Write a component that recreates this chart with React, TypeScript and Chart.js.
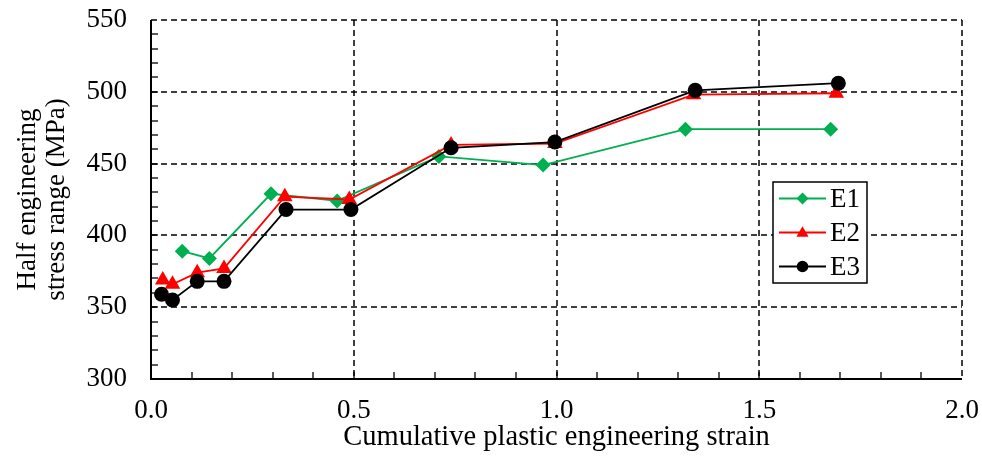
import { useEffect, useRef } from "react";
import { Chart, registerables } from "chart.js";

Chart.register(...registerables);

const seriesNames = ["E1", "E2", "E3"];
const seriesColors = ["#00B050", "#FF0000", "#000000"];

const e1Strain = [0.077, 0.144, 0.296, 0.459, 0.71, 0.967, 1.318, 1.676];
const e1Stress = [389, 384, 429, 424, 455, 449, 474, 474];

const e2Strain = [0.029, 0.053, 0.114, 0.18, 0.33, 0.489, 0.74, 0.996, 1.338, 1.69];
const e2Stress = [369, 366, 374, 377, 427, 425, 463, 464, 498, 499];

const e3Strain = [0.026, 0.053, 0.114, 0.18, 0.333, 0.493, 0.74, 0.996, 1.342, 1.695];
const e3Stress = [359, 355, 368, 368, 418, 418, 461, 465, 501, 506];

const xMajorTicks = [0, 0.5, 1.0, 1.5, 2.0];
const yMajorTicks = [300, 350, 400, 450, 500, 550];

const xTitle = "Cumulative plastic engineering strain";
const yTitle = ["Half engineering", "stress range (MPa)"];

const FONT_FAMILY = "'Liberation Serif', 'Times New Roman', serif";
const FONT_SIZE = 27;

const toPoints = (xs: number[], ys: number[]) => xs.map((x, i) => ({ x, y: ys[i] }));

function drawMarker(ctx: CanvasRenderingContext2D, style: string, x: number, y: number, r: number, color: string) {
  ctx.save();
  ctx.fillStyle = color;
  ctx.beginPath();
  if (style === "rectRot") {
    ctx.moveTo(x, y - r);
    ctx.lineTo(x + r, y);
    ctx.lineTo(x, y + r);
    ctx.lineTo(x - r, y);
  } else if (style === "triangle") {
    const h = r * 1.5;
    ctx.moveTo(x, y - h * 0.6);
    ctx.lineTo(x + r * 0.87, y + h * 0.4);
    ctx.lineTo(x - r * 0.87, y + h * 0.4);
  } else {
    ctx.arc(x, y, r, 0, Math.PI * 2);
  }
  ctx.closePath();
  ctx.fill();
  ctx.restore();
}

const framePlugin = {
  id: "frame",
  beforeDatasetsDraw(chart: any) {
    const { ctx, chartArea, scales } = chart;
    const { left, right, top, bottom } = chartArea;
    const xs = scales.x;
    const ys = scales.y;
    ctx.save();
    ctx.strokeStyle = "#000";
    ctx.lineWidth = 1.5;
    ctx.setLineDash([6, 4]);
    xMajorTicks.forEach((v) => {
      if (v === xs.min) return;
      const px = Math.round(xs.getPixelForValue(v));
      ctx.beginPath();
      ctx.moveTo(px, top);
      ctx.lineTo(px, bottom);
      ctx.stroke();
    });
    yMajorTicks.forEach((v) => {
      if (v === ys.min) return;
      const py = Math.round(ys.getPixelForValue(v));
      ctx.beginPath();
      ctx.moveTo(left, py);
      ctx.lineTo(right, py);
      ctx.stroke();
    });
    ctx.setLineDash([]);
    ctx.lineWidth = 1.3;
    for (let i = 1; i < 20; i++) {
      const px = Math.round(xs.getPixelForValue(i / 10));
      ctx.beginPath();
      ctx.moveTo(px, bottom);
      ctx.lineTo(px, bottom - 7);
      ctx.stroke();
    }
    for (let v = 310; v < 550; v += 10) {
      const py = Math.round(ys.getPixelForValue(v));
      ctx.beginPath();
      ctx.moveTo(left, py);
      ctx.lineTo(left + 7, py);
      ctx.stroke();
    }
    ctx.lineWidth = 2;
    ctx.beginPath();
    ctx.moveTo(left, top);
    ctx.lineTo(left, bottom);
    ctx.lineTo(right, bottom);
    ctx.stroke();
    ctx.restore();
  },
  afterDraw(chart: any) {
    const { ctx } = chart;
    const bx = 773, by = 182, bw = 94, bh = 101;
    ctx.save();
    ctx.fillStyle = "#fff";
    ctx.fillRect(bx, by, bw, bh);
    ctx.strokeStyle = "#000";
    ctx.lineWidth = 1.5;
    ctx.strokeRect(bx, by, bw, bh);
    const styles = ["rectRot", "triangle", "circle"];
    const radii = [6, 7, 5.8];
    const rowY = [198.5, 232.5, 266.5];
    seriesNames.forEach((name, i) => {
      const y = rowY[i];
      ctx.strokeStyle = seriesColors[i];
      ctx.lineWidth = 1.8;
      ctx.beginPath();
      ctx.moveTo(779, y);
      ctx.lineTo(826, y);
      ctx.stroke();
      drawMarker(ctx, styles[i], 802.5, y, radii[i], seriesColors[i]);
      ctx.fillStyle = "#000";
      ctx.font = `${FONT_SIZE}px ${FONT_FAMILY}`;
      ctx.textAlign = "left";
      ctx.textBaseline = "middle";
      ctx.fillText(name, 830, y + 1);
    });
    ctx.restore();
  },
};

export default function App() {
  const canvasRef = useRef<HTMLCanvasElement | null>(null);

  useEffect(() => {
    document.body.style.margin = "0";
    const canvas = canvasRef.current;
    if (!canvas) return;
    const font = { family: FONT_FAMILY, size: FONT_SIZE, lineHeight: 1 };
    const chart = new Chart(canvas, {
      type: "scatter",
      data: {
        datasets: [
          {
            label: seriesNames[0],
            data: toPoints(e1Strain, e1Stress),
            showLine: true,
            borderColor: seriesColors[0],
            backgroundColor: seriesColors[0],
            borderWidth: 1.8,
            pointStyle: "rectRot",
            pointRadius: 7.5,
            pointBorderWidth: 0,
            order: 2,
          },
          {
            label: seriesNames[1],
            data: toPoints(e2Strain, e2Stress),
            showLine: true,
            borderColor: seriesColors[1],
            backgroundColor: seriesColors[1],
            borderWidth: 1.8,
            pointStyle: "triangle",
            pointRadius: 9,
            pointBorderWidth: 0,
            order: 1,
          },
          {
            label: seriesNames[2],
            data: toPoints(e3Strain, e3Stress),
            showLine: true,
            borderColor: seriesColors[2],
            backgroundColor: seriesColors[2],
            borderWidth: 1.8,
            pointStyle: "circle",
            pointRadius: 7.5,
            pointBorderWidth: 0,
            order: 0,
          },
        ],
      },
      options: {
        animation: false,
        responsive: false,
        devicePixelRatio: 1,
        layout: { padding: { top: 20, right: 20, left: 0, bottom: 0 } },
        plugins: { legend: { display: false }, tooltip: { enabled: false } },
        scales: {
          x: {
            type: "linear",
            min: 0,
            max: 2,
            afterFit: (s: any) => {
              s.height = 81;
              s.paddingLeft = 0;
              s.paddingRight = 0;
            },
            afterBuildTicks: (s: any) => {
              s.ticks = xMajorTicks.map((v) => ({ value: v }));
            },
            ticks: {
              callback: (v: any) => Number(v).toFixed(1),
              font,
              color: "#000",
              padding: 18,
              maxRotation: 0,
              autoSkip: false,
            },
            grid: { display: false, drawTicks: false },
            border: { display: false },
            title: {
              display: true,
              text: xTitle,
              font: { family: FONT_FAMILY, size: 28.5, lineHeight: 1 },
              color: "#000",
              padding: { top: 0, bottom: 8 },
            },
          },
          y: {
            type: "linear",
            min: 300,
            max: 550,
            afterFit: (s: any) => {
              s.width = 151;
              s.paddingTop = 0;
              s.paddingBottom = 0;
            },
            afterBuildTicks: (s: any) => {
              s.ticks = yMajorTicks.map((v) => ({ value: v }));
            },
            ticks: {
              callback: (v: any) => String(v),
              font,
              color: "#000",
              padding: 24,
              autoSkip: false,
            },
            grid: { display: false, drawTicks: false },
            border: { display: false },
            title: {
              display: true,
              text: yTitle,
              font: { family: FONT_FAMILY, size: FONT_SIZE, lineHeight: 1.05 },
              color: "#000",
              padding: { top: 14, bottom: 0 },
            },
          },
        },
      },
      plugins: [framePlugin],
    } as any);
    return () => chart.destroy();
  }, []);

  return (
    <div style={{ width: 982, height: 460, background: "#fff" }}>
      <canvas ref={canvasRef} width={982} height={460} style={{ display: "block" }} />
    </div>
  );
}
